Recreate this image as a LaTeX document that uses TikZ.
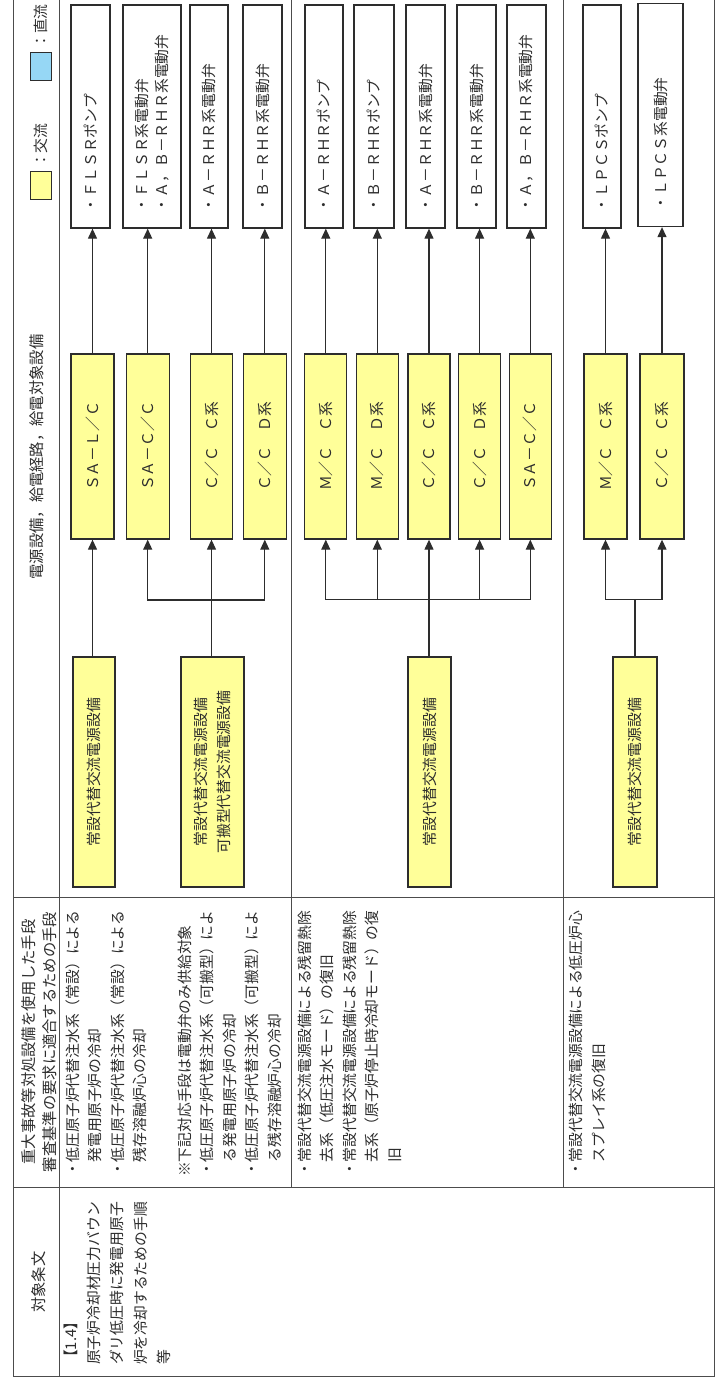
\documentclass[tikz,border=0pt]{standalone}
\usepackage{fontspec}
\setmainfont{Noto Sans CJK JP}
\usetikzlibrary{arrows.meta}
\definecolor{acy}{RGB}{255,255,153}
\definecolor{dcb}{RGB}{150,215,245}
\definecolor{ink}{RGB}{45,45,45}
\newcommand{\fsb}{\fontsize{14.8}{22.4}\selectfont}
\newcommand{\fsh}{\fontsize{15.3}{20.5}\selectfont}
\newcommand{\fsz}{\fontsize{14.8}{23.4}\selectfont}
\newcommand{\fst}{\fontsize{14.8}{20}\selectfont}
\tikzset{
  grid/.style={draw=black!70, line width=0.9pt},
  tgt/.style={draw=ink, line width=1.3pt, fill=white, rotate=90, minimum width=223pt,
    minimum height=#1, inner xsep=16pt, inner ysep=0pt, text width=191pt, align=left,
    font=\fst, text=ink},
  bus/.style={draw=ink, line width=1.3pt, fill=acy, rotate=90, minimum width=185pt,
    minimum height=#1, inner sep=0pt, align=center, font=\fsb, text=ink},
  src/.style={draw=ink, line width=1.3pt, fill=acy, rotate=90, minimum width=230pt,
    minimum height=#1, inner sep=0pt, align=center, font=\fsb, text=ink},
  txt/.style={rotate=90, anchor=north west, inner sep=0pt, align=left, text=ink},
  hdr/.style={rotate=90, inner sep=0pt, align=center, font=\fsh, text=ink},
  arr/.style={draw=ink, line width=1.2pt, -{Triangle[length=10pt,width=9pt]}},
  ln/.style={draw=ink, line width=1.2pt, line cap=rect},
}
\begin{document}
\begin{tikzpicture}[x=1pt,y=-1pt]
\useasboundingbox (0,0) rectangle (716,1381);
\fill[white] (0,0) rectangle (716,1381);
% table grid
\draw[grid] (13.5,0) -- (13.5,1376) -- (714,1376) -- (714,0);
\draw[grid] (59.3,0) -- (59.3,1376);
\draw[grid] (13.5,897) -- (714,897);
\draw[grid] (13.5,1187) -- (714,1187);
\draw[grid] (291.3,0) -- (291.3,1187);
\draw[grid] (563,0) -- (563,1187);
% headers
\node[hdr] (h1) at (36.5,457) {電源設備，給電経路，給電対象設備};
\node[hdr] (h2) at (39,1042) {重大事故等対処設備を使用した手段\\審査基準の要求に適合するための手段};
\node[hdr] (h3) at (38.8,1282) {対象条文};
% legend
\node[draw=ink, line width=1pt, fill=acy, minimum width=21pt, minimum height=28pt, inner sep=0pt] (lgac) at (40.5,185) {};
\node[rotate=90, anchor=west, inner sep=0pt, font=\fsb, text=ink] (lgact) at (40.5,168) {：交流};
\node[draw=ink, line width=1pt, fill=dcb, minimum width=21pt, minimum height=28pt, inner sep=0pt] (lgdc) at (40.5,66.5) {};
\node[rotate=90, anchor=west, inner sep=0pt, font=\fsb, text=ink] (lgdct) at (40.5,49) {：直流};
% target equipment
\node[tgt=39pt] (T1) at (90.5,116.5) {・ＦＬＳＲポンプ};
\node[tgt=58pt] (T2) at (152,116.5) {・ＦＬＳＲ系電動弁\\・Ａ，Ｂ－ＲＨＲ系電動弁};
\node[tgt=38pt] (T3) at (209,116.5) {・Ａ－ＲＨＲ系電動弁};
\node[tgt=39pt] (T4) at (262.5,116.5) {・Ｂ－ＲＨＲ系電動弁};
\node[tgt=38pt] (T5) at (324,116.5) {・Ａ－ＲＨＲポンプ};
\node[tgt=40pt] (T6) at (374,116.5) {・Ｂ－ＲＨＲポンプ};
\node[tgt=39pt] (T7) at (425.5,116.5) {・Ａ－ＲＨＲ系電動弁};
\node[tgt=39pt] (T8) at (476.5,116.5) {・Ｂ－ＲＨＲ系電動弁};
\node[tgt=39pt] (T9) at (526.5,116.5) {・Ａ，Ｂ－ＲＨＲ系電動弁};
\node[tgt=38pt] (T10) at (602,116.5) {・ＬＰＣＳポンプ};
\node[tgt=45pt] (T11) at (660.5,115) {・ＬＰＣＳ系電動弁};
% buses
\node[bus=43pt] (B1) at (92.5,446.5) {ＳＡ－Ｌ／Ｃ};
\node[bus=43pt] (B2) at (147.7,446.5) {ＳＡ－Ｃ／Ｃ};
\node[bus=42pt] (B3) at (211.5,446.5) {Ｃ／Ｃ　Ｃ系};
\node[bus=43pt] (B4) at (264.8,446.5) {Ｃ／Ｃ　Ｄ系};
\node[bus=42pt] (B5) at (325.8,446.5) {Ｍ／Ｃ　Ｃ系};
\node[bus=42pt] (B6) at (377.3,446.5) {Ｍ／Ｃ　Ｄ系};
\node[bus=42pt] (B7) at (429,446.5) {Ｃ／Ｃ　Ｃ系};
\node[bus=42pt] (B8) at (479.6,446.5) {Ｃ／Ｃ　Ｄ系};
\node[bus=42pt] (B9) at (530.3,446.5) {ＳＡ－Ｃ／Ｃ};
\node[bus=43pt] (B10) at (605.5,446.5) {Ｍ／Ｃ　Ｃ系};
\node[bus=44pt] (B11) at (662,446.5) {Ｃ／Ｃ　Ｃ系};
% sources
\node[src=42pt] (S1) at (94,772) {常設代替交流電源設備};
\node[src=63pt] (S2) at (212.5,772) {常設代替交流電源設備\\可搬型代替交流電源設備};
\node[src=43pt] (S3) at (429.5,772) {常設代替交流電源設備};
\node[src=44pt] (S4) at (635,772) {常設代替交流電源設備};
% bus -> target
\foreach \i in {1,...,11} {
  \draw[arr] (B\i.east) -- (B\i.east |- T\i.west);
}
% section 1
\draw[arr] (B1.west |- S1.east) -- (B1.west);
\draw[arr] (B3.west |- S2.east) -- (B3.west);
\coordinate (J1) at (212,600);
\draw[ln] (J1 -| B2.west) -- (J1 -| B4.west);
\draw[arr] (J1 -| B2.west) -- (B2.west);
\draw[arr] (J1 -| B4.west) -- (B4.west);
% section 2
\draw[arr] (B7.west |- S3.east) -- (B7.west);
\coordinate (J2) at (429,599.3);
\draw[ln] (J2 -| B5.west) -- (J2 -| B9.west);
\draw[arr] (J2 -| B5.west) -- (B5.west);
\draw[arr] (J2 -| B6.west) -- (B6.west);
\draw[arr] (J2 -| B8.west) -- (B8.west);
\draw[arr] (J2 -| B9.west) -- (B9.west);
% section 3
\coordinate (J3) at (635,599.3);
\draw[ln] (S4.east) -- (J3);
\draw[ln] (J3 -| B10.west) -- (J3 -| B11.west);
\draw[arr] (J3 -| B10.west) -- (B10.west);
\draw[arr] (J3 -| B11.west) -- (B11.west);
% measures column
\node[txt, font=\fsb] (r1) at (65.6,1177) {・低圧原子炉代替注水系（常設）による\\　発電用原子炉の冷却\\・低圧原子炉代替注水系（常設）による\\　残存溶融炉心の冷却\\[22.4pt]※下記対応手段は電動弁のみ供給対象\\・低圧原子炉代替注水系（可搬型）によ\\　る発電用原子炉の冷却\\・低圧原子炉代替注水系（可搬型）によ\\　る残存溶融炉心の冷却};
\node[txt, font=\fsb] (r2) at (297.6,1177) {・常設代替交流電源設備による残留熱除\\　去系（低圧注水モード）の復旧\\・常設代替交流電源設備による残留熱除\\　去系（原子炉停止時冷却モード）の復\\　旧};
\node[txt, font=\fsb] (r3) at (569.3,1177) {・常設代替交流電源設備による低圧炉心\\　スプレイ系の復旧};
% article column
\node[txt, font=\fsz] (z1) at (63.4,1365) {【1.4】\\原子炉冷却材圧力バウン\\ダリ低圧時に発電用原子\\炉を冷却するための手順\\等};
\end{tikzpicture}
\end{document}
